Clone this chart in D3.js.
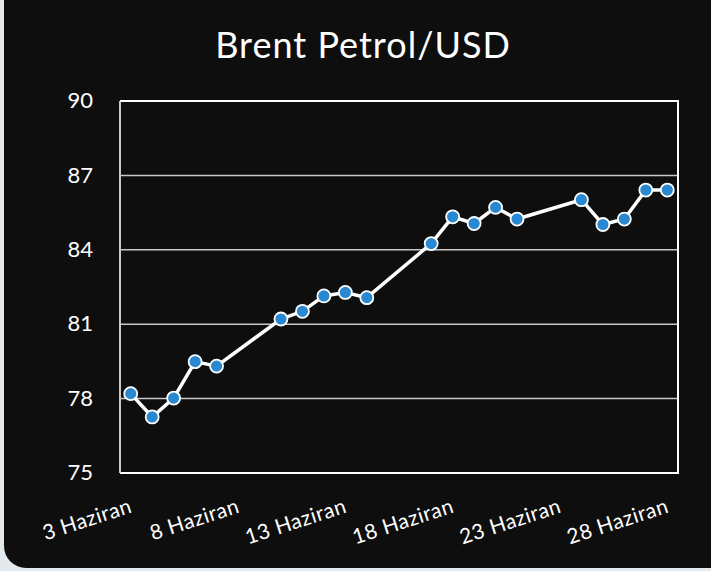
<!DOCTYPE html>
<html>
<head>
<meta charset="utf-8">
<script src="https://cdn.jsdelivr.net/npm/d3@7"></script>
<style>
  body { margin: 0; background: #e3e9ec; }
  svg { display: block; }
  text { font-family: "Lato", "Open Sans", sans-serif; fill: #fff; }
</style>
</head>
<body>
<svg width="711" height="571"></svg>
<script>
const title = "Brent Petrol/USD";
const days = [3, 4, 5, 6, 7, 10, 11, 12, 13, 14, 17, 18, 19, 20, 21, 24, 25, 26, 27, 28];
const prices = [78.20, 77.26, 78.02, 79.49, 79.31, 81.21, 81.52, 82.14, 82.28, 82.07,
  84.25, 85.33, 85.06, 85.71, 85.24, 86.02, 85.02, 85.24, 86.41, 86.41];
const tickDays = [3, 8, 13, 18, 23, 28];
const tickLabels = ["3 Haziran", "8 Haziran", "13 Haziran", "18 Haziran", "23 Haziran", "28 Haziran"];
const yTicks = [75, 78, 81, 84, 87, 90];

const width = 711;
const height = 571;
const margin = { top: 101, right: 33, bottom: 98, left: 120 };

const toDate = d => new Date(2024, 5, d);
const data = days.map((d, i) => ({ date: toDate(d), value: prices[i] }));

const svg = d3.select("svg");

// card
svg.append("rect")
  .attr("x", 4).attr("y", -30)
  .attr("width", 740).attr("height", 598)
  .attr("rx", 22)
  .attr("fill", "#0e0e0e");

svg.append("text")
  .attr("x", 363).attr("y", 58)
  .attr("text-anchor", "middle")
  .attr("font-size", 36)
  .attr("letter-spacing", 1)
  .text(title);

// scales: half a day of padding on each side
const xScale = d3.scaleTime()
  .domain([new Date(2024, 5, 2, 12), new Date(2024, 5, 28, 12)])
  .range([margin.left, width - margin.right]);

const yScale = d3.scaleLinear()
  .domain([75, 90])
  .range([height - margin.bottom, margin.top]);

// grid
svg.append("g")
  .selectAll("line")
  .data(yTicks)
  .join("line")
  .attr("x1", margin.left).attr("x2", width - margin.right)
  .attr("y1", d => yScale(d)).attr("y2", d => yScale(d))
  .attr("stroke", "#c8c8c8")
  .attr("stroke-width", 1.5);

// frame
svg.append("path")
  .attr("d", `M${margin.left},${margin.top}H${width - margin.right}V${height - margin.bottom}H${margin.left}`)
  .attr("fill", "none")
  .attr("stroke", "#fff")
  .attr("stroke-width", 2);
svg.append("line")
  .attr("x1", margin.left).attr("x2", margin.left)
  .attr("y1", margin.top).attr("y2", height - margin.bottom)
  .attr("stroke", "#c8c8c8")
  .attr("stroke-width", 2);

// y axis
const yAxis = d3.axisLeft(yScale).tickValues(yTicks).tickSize(0).tickPadding(27);
const yg = svg.append("g")
  .attr("transform", `translate(${margin.left},0)`)
  .call(yAxis);
yg.select(".domain").remove();
yg.selectAll("text")
  .attr("font-size", 22)
  .attr("fill", "#fff")
  .attr("dy", "0.3em")
  .style("font-family", "Lato");

// x axis
const xAxis = d3.axisBottom(xScale)
  .tickValues(tickDays.map(toDate))
  .tickSize(0)
  .tickFormat((d, i) => tickLabels[i]);
const xg = svg.append("g")
  .attr("transform", `translate(0,${height - margin.bottom})`)
  .call(xAxis);
xg.select(".domain").remove();
xg.selectAll("text")
  .attr("font-size", 21)
  .attr("fill", "#fff")
  .style("font-family", "Lato")
  .attr("letter-spacing", 0.5)
  .attr("text-anchor", "end")
  .attr("dy", 0)
  .attr("y", 0)
  .attr("transform", "translate(2,39) rotate(-18)");

// line
const line = d3.line()
  .x(d => xScale(d.date))
  .y(d => yScale(d.value));

svg.append("path")
  .datum(data)
  .attr("d", line)
  .attr("fill", "none")
  .attr("stroke", "#fff")
  .attr("stroke-width", 3.5);

svg.append("g")
  .selectAll("circle")
  .data(data)
  .join("circle")
  .attr("cx", d => xScale(d.date))
  .attr("cy", d => yScale(d.value))
  .attr("r", 6.5)
  .attr("fill", "#2a88d0")
  .attr("stroke", "#fff")
  .attr("stroke-width", 1.8);
</script>
</body>
</html>
